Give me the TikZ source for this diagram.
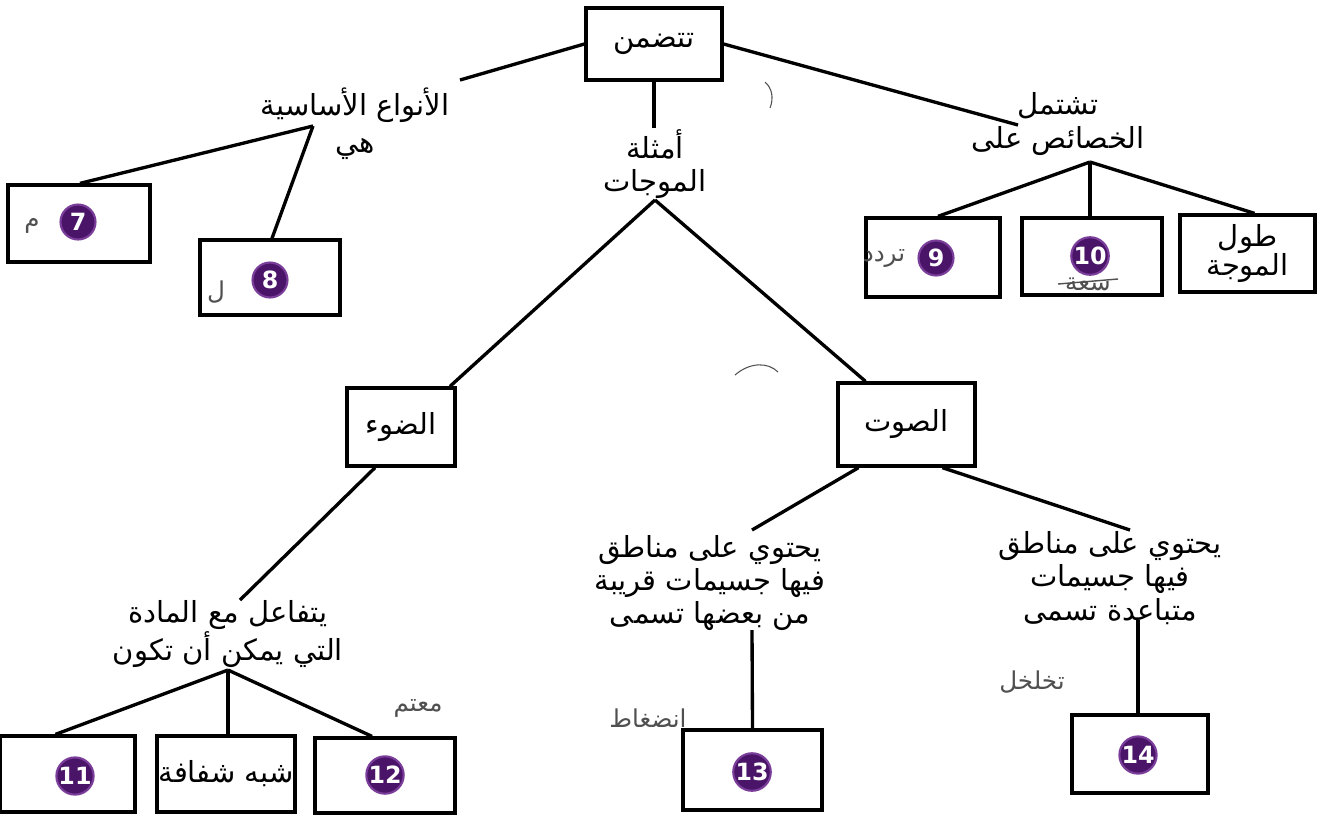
\documentclass[tikz,border=0pt]{standalone}
\usepackage{fontspec}
\TeXXeTstate=1
\newfontfamily\arabicfont[Script=Arabic]{DejaVu Sans}
\newfontfamily\numfont{DejaVu Sans}
\usetikzlibrary{calc}
\definecolor{purp}{HTML}{4A1468}
\definecolor{purpring}{HTML}{7A3E9A}
\definecolor{pen}{HTML}{505050}
\newcommand{\AR}[1]{\beginR #1\endR}
\tikzset{
  conn/.style={line width=1.9pt, black},
  box/.style={draw, line width=1.9pt, inner sep=0pt, align=center,
    font=\arabicfont\fontsize{16.5}{19}\selectfont},
  lbl/.style={inner sep=0pt, align=center,
    font=\arabicfont\fontsize{16.5}{19}\selectfont},
  numc/.style={circle, fill=purp, draw=purpring, line width=1.2pt, text=white,
    minimum size=0.7cm, inner sep=0pt, font=\numfont\bfseries\fontsize{13.5}{13.5}\selectfont},
  hand/.style={inner sep=0pt, text=pen, font=\arabicfont\fontsize{14}{16}\selectfont}
}
\begin{document}
\begin{tikzpicture}[x=0.02cm,y=-0.02cm]
\useasboundingbox (0,0) rectangle (1324,823);
\fill[white] (0,0) rectangle (1324,823);

% boxes
\node[box, minimum width=2.72cm, minimum height=1.44cm] (top) at (654,44) {\AR{تتضمن}};
\node[box, minimum width=2.84cm, minimum height=1.54cm] (b7) at (79,223.5) {};
\node[box, minimum width=2.80cm, minimum height=1.50cm] (b8) at (270,277.5) {};
\node[box, minimum width=2.68cm, minimum height=1.58cm] (b9) at (933,257.5) {};
\node[box, minimum width=2.80cm, minimum height=1.54cm] (b10) at (1092,256.5) {};
\node[box, minimum width=2.70cm, minimum height=1.54cm] (bwl) at (1247.5,253.5) {\AR{طول}\\[-3pt]\AR{الموجة}};
\node[box, minimum width=2.16cm, minimum height=1.56cm] (light) at (401,427) {\AR{الضوء}};
\node[box, minimum width=2.74cm, minimum height=1.66cm] (sound) at (906.5,424.5) {\AR{الصوت}};
\node[box, minimum width=2.70cm, minimum height=1.52cm] (b11) at (67.5,774) {};
\node[box, minimum width=2.76cm, minimum height=1.52cm] (bsemi) at (226,774) {\AR{شبه شفافة}};
\node[box, minimum width=2.80cm, minimum height=1.50cm] (b12) at (385,775.5) {};
\node[box, minimum width=2.78cm, minimum height=1.60cm] (b13) at (752.5,770) {};
\node[box, minimum width=2.72cm, minimum height=1.56cm] (b14) at (1140,754) {};

% numbered circles
\node[numc] (n7) at (78,222) {7};
\node[numc] (n8) at (270,280) {8};
\node[numc] (n9) at (936,258) {9};
\node[numc] (n10) at (1090,256) {10};
\node[numc] (n11) at (75,776) {11};
\node[numc] (n12) at (385,775) {12};
\node[numc] (n13) at (752,772) {13};
\node[numc] (n14) at (1138,755) {14};

% text labels
\node[lbl] (types) at (355,124) {\AR{الأنواع الأساسية}\\[2pt]\AR{هي}};
\node[lbl] (ex) at (655,164) {\AR{أمثلة}\\\AR{الموجات}};
\node[lbl] (props) at (1058,124) {\AR{تشتمل}\\\AR{الخصائص على}};
\node[lbl] (inter) at (228,634) {\AR{يتفاعل مع المادة}\\\AR{التي يمكن أن تكون}};
\node[lbl] (s1) at (710,583) {\AR{يحتوي على مناطق}\\\AR{فيها جسيمات قريبة}\\\AR{من بعضها تسمى}};
\node[lbl] (s2) at (1110,578) {\AR{يحتوي على مناطق}\\\AR{فيها جسيمات}\\\AR{متباعدة تسمى}};

% connector end points
\coordinate (tR) at (460,80);
\coordinate (tB) at (313,126);
\coordinate (eT) at (654,128);
\coordinate (eB) at (655,200);
\coordinate (pL) at (1018,125);
\coordinate (pB) at (1090,162);
\coordinate (iT) at (240,600);
\coordinate (iB) at (228,670);
\coordinate (s1T) at (752,530);
\coordinate (s1B) at (752,630);
\coordinate (s2T) at (1130,530);
\coordinate (s2B) at (1138,620);

% connectors
\draw[conn] (top.west) -- (tR);
\draw[conn] (tB) -- ($(b7.north)+(1,0)$);
\draw[conn] (tB) -- ($(b8.north)+(2,0)$);
\draw[conn] (top.south) -- (eT);
\draw[conn] (eB) -- ($(light.north)+(49,0)$);
\draw[conn] (eB) -- ($(sound.north)+(-41,0)$);
\draw[conn] (top.east) -- (pL);
\draw[conn] (pB) -- ($(b9.north)+(5,0)$);
\draw[conn] (pB) -- (b10.north -| pB);
\draw[conn] (pB) -- ($(bwl.north)+(7,0)$);
\draw[conn] ($(light.south)+(-26,0)$) -- (iT);
\draw[conn] (iB) -- ($(b11.north)+(-12,0)$);
\draw[conn] (iB) -- (bsemi.north -| iB);
\draw[conn] (iB) -- ($(b12.north)+(-13,0)$);
\draw[conn] ($(sound.south)+(-48,0)$) -- (s1T);
\draw[conn] ($(sound.south)+(36,0)$) -- (s2T);
\draw[conn] (s1B) -- (b13.north);
\draw[conn] (s2B) -- (b14.north -| s2B);

% handwritten annotations
\node[hand] (h7) at (32,226) {\AR{م}};
\node[hand] (h8) at (216,292) {\AR{ل}};
\node[hand] (h9) at (884,258) {\AR{تردد}};
\node[hand] (h10) at (1088,284) {\AR{سعة}};
\draw[pen, line width=0.8pt] (1058,284) -- (1118,279);
\node[hand] (h12) at (418,708) {\AR{معتم}};
\node[hand] (h13) at (648,718) {\AR{انضغاط}};
\node[hand] (h14) at (1032,682) {\AR{تخلخل}};

% stray pen marks
\draw[pen, line width=0.6pt] (765,82) .. controls (772,88) and (774,98) .. (770,108);
\draw[pen, line width=0.6pt] (735,375) .. controls (750,362) and (768,362) .. (778,372);
\end{tikzpicture}
\end{document}
